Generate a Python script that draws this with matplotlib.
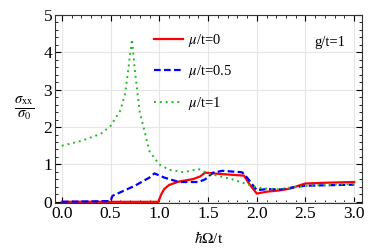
import matplotlib
matplotlib.use("Agg")
import matplotlib.pyplot as plt
from matplotlib.ticker import MultipleLocator

plt.rcParams['font.family'] = ['Liberation Serif', 'DejaVu Serif']
plt.rcParams['mathtext.fontset'] = 'stix'

# mu/t = 0
x_mu0 = [0.0, 0.5, 0.99, 1.02, 1.05, 1.1, 1.2, 1.35, 1.42, 1.47, 1.6, 1.87, 1.92, 2.0,
         2.1, 2.25, 2.35, 2.45, 2.5, 2.7, 3.0]
y_mu0 = [0.0, 0.0, 0.0, 0.2, 0.34, 0.45, 0.54, 0.61, 0.68, 0.78, 0.75, 0.7, 0.49, 0.22,
         0.27, 0.31, 0.36, 0.45, 0.49, 0.51, 0.53]

# mu/t = 0.5
x_mu05 = [0.0, 0.5, 0.52, 0.75, 0.9, 0.95, 1.05, 1.2, 1.4, 1.47, 1.55, 1.65, 1.85, 1.9,
          2.0, 2.1, 2.25, 2.4, 2.5, 3.0]
y_mu05 = [0.0, 0.02, 0.16, 0.43, 0.65, 0.76, 0.65, 0.53, 0.53, 0.6, 0.78, 0.83, 0.79, 0.65,
          0.31, 0.34, 0.33, 0.4, 0.43, 0.46]

# mu/t = 1
x_mu1 = [0.0, 0.2, 0.4, 0.5, 0.6, 0.65, 0.68, 0.72, 0.75, 0.8, 0.9, 1.0, 1.1, 1.25, 1.4,
         1.5, 1.75, 1.95, 2.0, 2.2, 2.5, 3.0]
y_mu1 = [1.5, 1.63, 1.82, 2.03, 2.44, 2.9, 3.5, 4.35, 3.5, 2.4, 1.35, 1.0, 0.86, 0.79, 0.88,
         0.76, 0.6, 0.43, 0.38, 0.33, 0.43, 0.48]

fig = plt.figure(figsize=(3.74, 2.49), dpi=100)
ax = fig.add_axes([0.147, 0.185, 0.821, 0.755])

ax.plot(x_mu0, y_mu0, color='#ff0000', lw=1.6, label=r'$\mu$/t=0')
ax.plot(x_mu05, y_mu05, color='#0000ff', lw=1.6, ls=(0, (3, 1.5)), label=r'$\mu$/t=0.5')
ax.plot(x_mu1, y_mu1, color='#22bb22', lw=1.4, ls=(0, (1, 2)), label=r'$\mu$/t=1')

ax.set_xlim(-0.07, 3.08)
ax.set_ylim(-0.03, 5)
ax.xaxis.set_major_locator(MultipleLocator(0.5))
ax.xaxis.set_minor_locator(MultipleLocator(0.1))
ax.yaxis.set_major_locator(MultipleLocator(1))
ax.yaxis.set_minor_locator(MultipleLocator(0.2))
ax.xaxis.set_major_formatter(matplotlib.ticker.FormatStrFormatter('%.1f'))
ax.grid(True, which='major', color='#e6e6e6', lw=0.8)
ax.set_axisbelow(True)
ax.tick_params(which='both', direction='in', top=True, right=True, labelsize=12.5, pad=2)
ax.tick_params(which='major', length=4, width=0.8)
ax.tick_params(which='minor', length=2, width=0.6)
for s in ax.spines.values():
    s.set_color('#333333')

ax.set_xlabel(r'$\hbar\Omega$/t', fontsize=11, labelpad=6)
ax.set_ylabel(r'$\frac{\sigma_{\rm xx}}{\sigma_0}$', fontsize=15, rotation=0, labelpad=14, va='center')
ax.text(2.75, 4.25, 'g/t=1', fontsize=10.5, ha='center', va='center')
ax.legend(loc='upper left', bbox_to_anchor=(0.28, 0.98), frameon=False, fontsize=10.5,
          handlelength=2.0, labelspacing=1.0, handletextpad=0.3)

fig.savefig('out.png', dpi=100)
